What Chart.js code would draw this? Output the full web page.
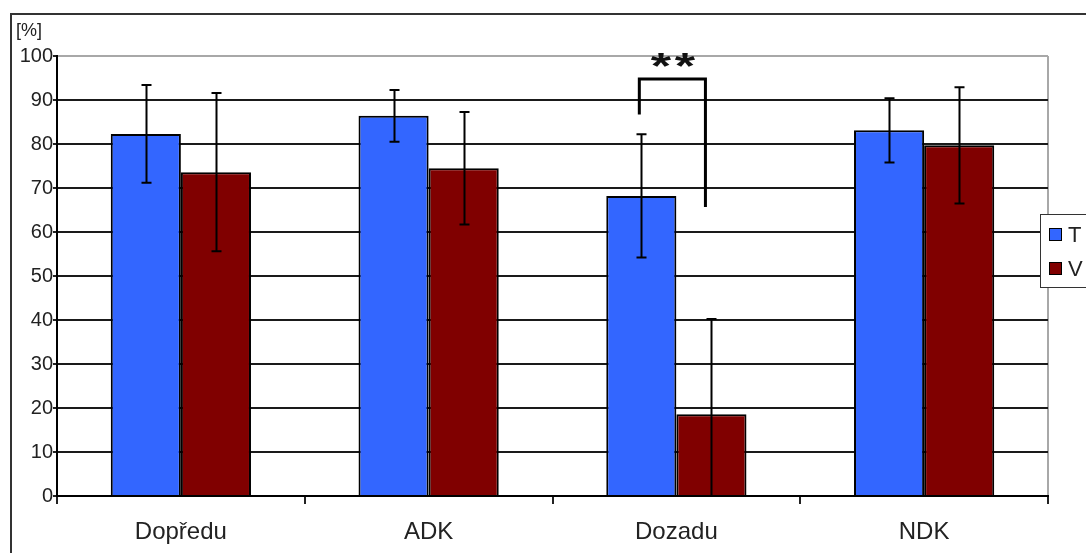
<!DOCTYPE html>
<html>
<head>
<meta charset="utf-8">
<title>T / V</title>
<script src="https://cdn.jsdelivr.net/npm/chart.js@4/dist/chart.umd.min.js"></script>
<style>
  html, body { margin: 0; padding: 0; background: #fff; }
  #wrap { position: relative; width: 1086px; height: 553px; overflow: hidden; }
  #frame { position: absolute; left: 10px; top: 13px; width: 1100px; height: 600px;
           border-left: 2px solid #333; border-top: 2px solid #333; box-sizing: border-box; }
  canvas { position: absolute; left: 0; top: 0; }
</style>
</head>
<body>
<div id="wrap">
  <div id="frame"></div>
  <canvas id="chart" width="1086" height="553"></canvas>
</div>
<script>
// Categories and series (mean values in %, with standard deviations)
const categories = ['Dopředu', 'ADK', 'Dozadu', 'NDK'];
const seriesNames = ['T', 'V'];
const valuesT = [82.3, 86.4, 68.2, 83.1];
const valuesV = [73.6, 74.5, 18.6, 79.7];
const sdT = [11.1, 5.9, 14.0, 7.3];
const sdV = [18.0, 12.8, 21.6, 13.2];
const yTicks = [0, 10, 20, 30, 40, 50, 60, 70, 80, 90, 100];

// Significance bracket between T and V at "Dozadu": [left end, top, right end] in %
const sigCategory = 2;
const sigBracket = [86.7, 94.8, 65.7];
const sigLabel = '**';
const unitLabel = '[%]';

const colorT = '#3366ff';
const colorV = '#800000';

const errorBars = {
  id: 'errorBars',
  afterDatasetsDraw(chart) {
    const { ctx, chartArea } = chart;
    const y = chart.scales.y;
    const sds = [sdT, sdV];
    ctx.save();
    ctx.strokeStyle = '#000';
    ctx.lineWidth = 2;
    chart.data.datasets.forEach((ds, i) => {
      const meta = chart.getDatasetMeta(i);
      meta.data.forEach((bar, j) => {
        const v = ds.data[j], s = sds[i][j];
        const x = Math.round(bar.x) + 0.5;
        let yTop = y.getPixelForValue(v + s);
        let yBot = y.getPixelForValue(v - s);
        const capTop = yTop >= chartArea.top;
        const capBot = yBot <= chartArea.bottom;
        yTop = Math.max(yTop, chartArea.top);
        yBot = Math.min(yBot, chartArea.bottom);
        ctx.beginPath();
        ctx.moveTo(x, yTop);
        ctx.lineTo(x, yBot);
        if (capTop) { ctx.moveTo(x - 5, yTop); ctx.lineTo(x + 5, yTop); }
        if (capBot) { ctx.moveTo(x - 5, yBot); ctx.lineTo(x + 5, yBot); }
        ctx.stroke();
      });
    });
    ctx.restore();
  }
};

const decorations = {
  id: 'decorations',
  afterDraw(chart) {
    const { ctx } = chart;
    const y = chart.scales.y;
    ctx.save();

    // unit label above the value axis
    ctx.fillStyle = '#222';
    ctx.font = '18px "Liberation Sans", Arial, sans-serif';
    ctx.textBaseline = 'alphabetic';
    ctx.textAlign = 'left';
    ctx.fillText(unitLabel, 16, 36);

    // significance bracket
    const barT = chart.getDatasetMeta(0).data[sigCategory];
    const barV = chart.getDatasetMeta(1).data[sigCategory];
    const xl = barT.x - 2, xr = barV.x - 6;
    const yl = y.getPixelForValue(sigBracket[0]);
    const yt = y.getPixelForValue(sigBracket[1]);
    const yr = y.getPixelForValue(sigBracket[2]);
    ctx.strokeStyle = '#000';
    ctx.lineWidth = 3;
    ctx.lineCap = 'butt';
    ctx.lineJoin = 'miter';
    ctx.beginPath();
    ctx.moveTo(xl, yl);
    ctx.lineTo(xl, yt);
    ctx.lineTo(xr, yt);
    ctx.lineTo(xr, yr);
    ctx.stroke();

    // significance stars, each centred on its own slot above the bracket
    ctx.fillStyle = '#111';
    ctx.font = 'bold 36px "Liberation Sans", Arial, sans-serif';
    ctx.textAlign = 'left';
    ctx.textBaseline = 'alphabetic';
    const stars = sigLabel.split('');
    const gap = 24, cy = yt - 19, cxMid = (xl + xr) / 2 + 0.5;
    stars.forEach((ch, k) => {
      const m = ctx.measureText(ch);
      const gw = m.actualBoundingBoxLeft + m.actualBoundingBoxRight;
      const gh = m.actualBoundingBoxAscent + m.actualBoundingBoxDescent;
      const cx = cxMid + (k - (stars.length - 1) / 2) * gap;
      ctx.save();
      ctx.translate(cx, cy);
      ctx.scale(1.45, 1);
      ctx.fillText(ch, -m.actualBoundingBoxRight + gw / 2, m.actualBoundingBoxAscent - gh / 2);
      ctx.restore();
    });

    // legend box
    const lx = 1040, ly = 214;
    ctx.fillStyle = '#fff';
    ctx.fillRect(lx, ly, 60, 73);
    ctx.strokeStyle = '#333';
    ctx.lineWidth = 1;
    ctx.strokeRect(lx + 0.5, ly + 0.5, 60, 73);
    const colors = chart.data.datasets.map(d => d.backgroundColor);
    ctx.font = '22px "Liberation Sans", Arial, sans-serif';
    ctx.textAlign = 'left';
    ctx.textBaseline = 'middle';
    seriesNames.forEach((name, i) => {
      const sy = 228 + i * 34;
      ctx.fillStyle = colors[i];
      ctx.fillRect(1049, sy, 13, 13);
      ctx.strokeStyle = '#000';
      ctx.strokeRect(1049.5, sy + 0.5, 12, 12);
      ctx.fillStyle = '#222';
      ctx.fillText(name, 1068, sy + 8);
    });
    ctx.restore();
  }
};

new Chart(document.getElementById('chart'), {
  type: 'bar',
  data: {
    labels: categories,
    datasets: [
      { label: seriesNames[0], data: valuesT, backgroundColor: colorT, borderColor: '#000', borderWidth: 2 },
      { label: seriesNames[1], data: valuesV, backgroundColor: colorV, borderColor: '#000', borderWidth: 2 }
    ]
  },
  options: {
    responsive: false,
    animation: false,
    events: [],
    layout: { padding: { left: 0, right: 38, top: 56, bottom: 0 } },
    datasets: { bar: { categoryPercentage: 0.566, barPercentage: 1.0 } },
    plugins: { legend: { display: false }, title: { display: false }, tooltip: { enabled: false } },
    scales: {
      x: {
        afterFit(scale) { scale.height = 57; },
        border: { display: true, color: '#000', width: 2 },
        grid: {
          offset: true,
          drawOnChartArea: true,
          color: c => (c.type === 'scale' ? '#a8a8a8' : 'rgba(0,0,0,0)'),
          tickColor: '#222',
          tickLength: 8,
          lineWidth: 2
        },
        ticks: {
          color: '#222',
          padding: 14,
          font: { family: '"Liberation Sans", Arial, sans-serif', size: 24 }
        }
      },
      y: {
        min: 0,
        max: 100,
        afterFit(scale) { scale.width = 57; },
        afterBuildTicks(scale) { scale.ticks = yTicks.map(v => ({ value: v })); },
        border: { display: true, color: '#000', width: 2 },
        grid: {
          color: c => (c.tick && c.tick.value === 100 ? '#a8a8a8' : '#1a1a1a'),
          tickColor: '#222',
          tickLength: 4,
          lineWidth: 2
        },
        ticks: {
          color: '#222',
          padding: 0,
          font: { family: '"Liberation Sans", Arial, sans-serif', size: 20 }
        }
      }
    }
  },
  plugins: [errorBars, decorations]
});
</script>
</body>
</html>
